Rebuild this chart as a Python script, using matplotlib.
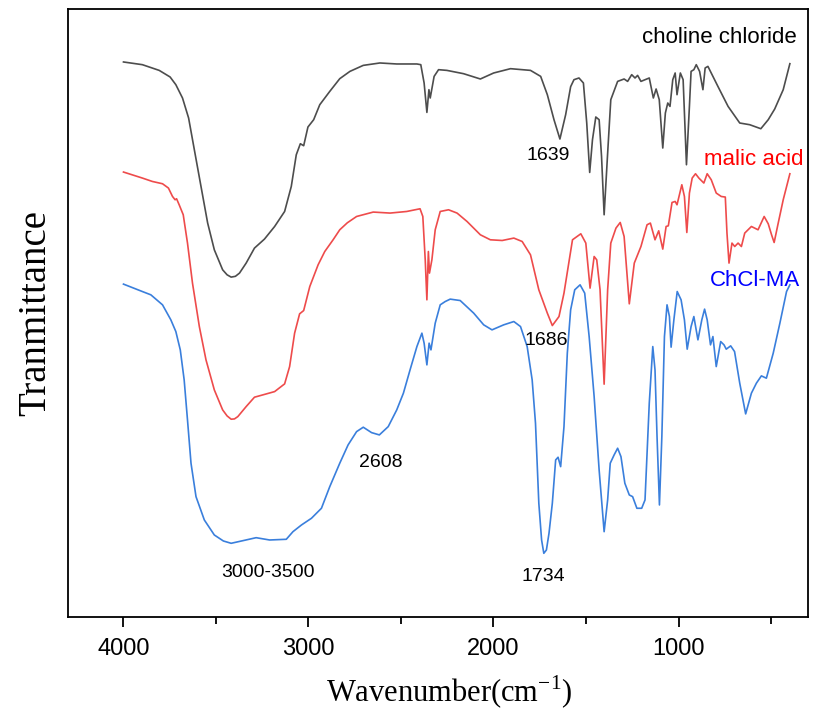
import matplotlib
matplotlib.use('Agg')
import matplotlib.pyplot as plt

# FTIR spectra (transmittance in arbitrary, stacked units)
wn_cc = [4000, 3898, 3807, 3748, 3717, 3681, 3648, 3617, 3581, 3545, 3509, 3464, 3440, 3418, 3395,
         3373, 3337, 3292, 3238, 3183, 3129, 3093, 3066, 3044, 3026, 3003, 2972, 2939, 2885, 2831,
         2776, 2704, 2614, 2523, 2414, 2393, 2375, 2360, 2349, 2342, 2321, 2297, 2252, 2162,
         2071, 1999, 1908, 1800, 1745, 1709, 1673, 1641, 1610, 1583, 1565, 1538, 1514, 1496,
         1480, 1465, 1447, 1429, 1416, 1402, 1384, 1366, 1329, 1294, 1275, 1253, 1235, 1221,
         1203, 1158, 1136, 1121, 1104, 1085, 1071, 1058, 1046, 1031, 1018, 1008, 990, 975,
         957, 941, 932, 917, 904, 886, 868, 856, 841, 787, 732, 669, 615, 555, 515, 480, 434, 398]
t_cc = [557.7, 555, 549.3, 542.7, 535, 521.7, 501.7, 470, 433.3, 396.7, 370, 350, 345, 342.7, 343.5,
        346.7, 356.7, 371.7, 380.7, 393.3, 408.3, 433.3, 465, 476, 474, 492.7, 500, 515, 528.3, 541,
        548.3, 554.3, 556.7, 555.7, 555.7, 555, 536.7, 507.3, 530, 521.7, 543.3, 550, 549.3, 546,
        540.7, 546.7, 551, 549.3, 543.3, 525, 500, 480.7, 505, 533, 540, 541.7, 536.7, 496.7,
        447.3, 480, 502.7, 500, 463.3, 405, 463.3, 520, 538.3, 540.7, 538.3, 545, 541.7, 544.3,
        538.3, 541.7, 521.7, 530.7, 520, 471.7, 506.7, 516.7, 513.3, 540, 546.7, 525, 546.7, 540,
        455, 513.3, 548.3, 550, 555, 548.3, 530, 551.7, 553.3, 533.3, 513.3, 496.7, 495, 491, 500,
        510.7, 530, 556]

wn_ma = [4000, 3898, 3844, 3789, 3757, 3735, 3721, 3713, 3699, 3677, 3654, 3627, 3590, 3554,
         3509, 3464, 3440, 3418, 3400, 3382, 3337, 3292, 3247, 3183, 3129, 3102, 3075, 3048, 3026,
         2993, 2948, 2912, 2867, 2831, 2790, 2740, 2650, 2559, 2469, 2397, 2382, 2369, 2360, 2352,
         2346, 2333, 2315, 2288, 2243, 2197, 2143, 2071, 2017, 1953, 1890, 1845, 1800, 1755, 1709,
         1682, 1646, 1619, 1586, 1573, 1528, 1501, 1478, 1456, 1442, 1424, 1402, 1383, 1366,
         1338, 1315, 1294, 1266, 1239, 1203, 1170, 1152, 1127, 1107, 1085, 1067, 1055, 1035,
         1018, 1008, 982, 968, 955, 941, 926, 908, 890, 863, 845, 823, 796, 769, 747, 738, 727,
         711, 696, 678, 660, 642, 606, 570, 537, 515, 497, 483, 461, 434, 398]
t_ma = [447.7, 441.7, 438.3, 436, 431.7, 423.3, 420, 421, 415, 405, 376.7, 336.7, 293.3, 260,
        230, 210, 204, 200.7, 201, 203.3, 213.3, 222.7, 225, 228.3, 236, 253.3, 286.7, 306, 309.3,
        333.3, 355, 368.3, 380, 390, 397, 403.3, 407.7, 406.7, 408.3, 411, 403.3, 360, 320, 368.3,
        346.7, 360, 390, 408.3, 410, 406.7, 398.3, 385, 380, 379.3, 381.7, 378.3, 365, 330, 306.7,
        294.3, 303.3, 326.7, 365, 380, 386, 376.7, 331.7, 363.3, 360, 330, 235.7, 330, 376.7,
        391.7, 397.3, 383.3, 316, 356.7, 373.3, 395, 396.7, 380, 389, 370.7, 393.3, 394, 417.3,
        418.3, 415, 435, 423.3, 387.3, 426.7, 441.7, 446, 441.7, 436.7, 446, 440, 426.7, 423.3,
        422.7, 386.7, 356.7, 376.7, 373.3, 376.7, 373.3, 386.7, 393.3, 390, 403.3, 396, 385,
        377.3, 396.7, 420, 446]

wn_des = [4000, 3898, 3852, 3789, 3744, 3717, 3693, 3672, 3654, 3635, 3608, 3563, 3509, 3460, 3418,
          3355, 3283, 3210, 3120, 3084, 3038, 2984, 2930, 2885, 2831, 2786, 2740, 2704, 2659,
          2617, 2569, 2523, 2487, 2451, 2414, 2387, 2375, 2360, 2348, 2338, 2315, 2288, 2261,
          2234, 2180, 2107, 2053, 2008, 1945, 1890, 1854, 1818, 1791, 1773, 1755, 1740, 1728, 1714,
          1700, 1682, 1664, 1651, 1637, 1619, 1601, 1583, 1561, 1532, 1507, 1483, 1456, 1429, 1402,
          1383, 1369, 1348, 1329, 1311, 1290, 1266, 1248, 1225, 1199, 1181, 1158, 1139, 1127,
          1116, 1103, 1090, 1076, 1062, 1049, 1040, 1025, 1007, 986, 968, 953, 932, 917, 895,
          874, 859, 845, 827, 814, 796, 772, 754, 742, 718, 697, 669, 637, 606, 579, 552, 525,
          488, 452, 416, 398]
t_des = [335.7, 328.3, 325, 315, 300, 288.3, 270, 240, 200, 156.7, 123.3, 100, 85, 79, 76.7,
         79.3, 82.3, 80, 80.7, 88.3, 95, 101.7, 111.7, 133.3, 156.7, 175, 188.3, 192.7, 187.3,
         185, 193.3, 210, 226.7, 250, 273.3, 286.7, 276.7, 255, 276.7, 270, 296.7, 315, 318.3,
         320.7, 319.3, 306.7, 295, 290, 295, 298.3, 293.3, 273.3, 240, 196.7, 116.7, 80, 66.7, 70,
         86.7, 116.7, 160, 162.7, 153.3, 193.3, 266.7, 310, 330, 335, 326.7, 283.3, 223.3, 150, 88.3,
         120, 156.7, 165, 171.7, 163.3, 136.7, 125, 123.3, 111.7, 111.7, 120, 216.7, 273.3, 250,
         183.3, 115, 183.3, 283.3, 315, 303.3, 272.7, 300, 328.3, 320, 300, 270.7, 293.3, 303.3,
         280, 300, 310.7, 300, 275, 283.3, 253.3, 278.3, 275, 270.7, 274, 268.3, 236.7, 206,
         226.7, 236.7, 244, 241.7, 266.7, 296.7, 328.3, 335]

# labels: (text, wavenumber, transmittance)
curve_labels = [('choline chloride', 780, 582, 'black'),
                ('malic acid', 595, 460, '#ff0000'),
                ('ChCl-MA', 584, 339, '#0000ff')]
peak_labels = [('1639', 1702, 464), ('1686', 1713, 279), ('2608', 2608, 157),
               ('3000-3500', 3221, 48), ('1734', 1729, 44)]

fig = plt.figure(figsize=(8.25, 7.2), dpi=100)
ax = fig.add_axes([0.0824, 0.143, 0.897, 0.845])

ax.plot(wn_cc, t_cc, color='#4d4d4d', lw=1.2)
ax.plot(wn_ma, t_ma, color='#ee4b4b', lw=1.2)
ax.plot(wn_des, t_des, color='#3a7fdc', lw=1.2)

for txt, x, y, c in curve_labels:
    ax.text(x, y, txt, color=c, fontsize=16, family='Liberation Sans', ha='center', va='center')
for txt, x, y in peak_labels:
    ax.text(x, y, txt, color='black', fontsize=14, family='Liberation Sans', ha='center', va='center')

ax.set_xlim(4300, 300)
ax.set_ylim(3, 611)
ax.set_xticks([4000, 3000, 2000, 1000])
ax.set_xticks([3500, 2500, 1500, 500], minor=True)
ax.set_yticks([])
ax.tick_params(axis='x', which='major', length=7, width=1.3, labelsize=17, pad=8)
ax.tick_params(axis='x', which='minor', length=5, width=1.3)
for lab in ax.get_xticklabels():
    lab.set_family('Liberation Sans')
for sp in ax.spines.values():
    sp.set_linewidth(1.3)

ax.set_xlabel('Wavenumber(cm$^{\\mathregular{-1}}$)', family='Liberation Serif', fontsize=22, labelpad=10)
ax.xaxis.label.set_x(0.515)
ax.set_ylabel('Tranmittance', family='Liberation Serif', fontsize=28, labelpad=10)

fig.savefig('out.png', dpi=100)
